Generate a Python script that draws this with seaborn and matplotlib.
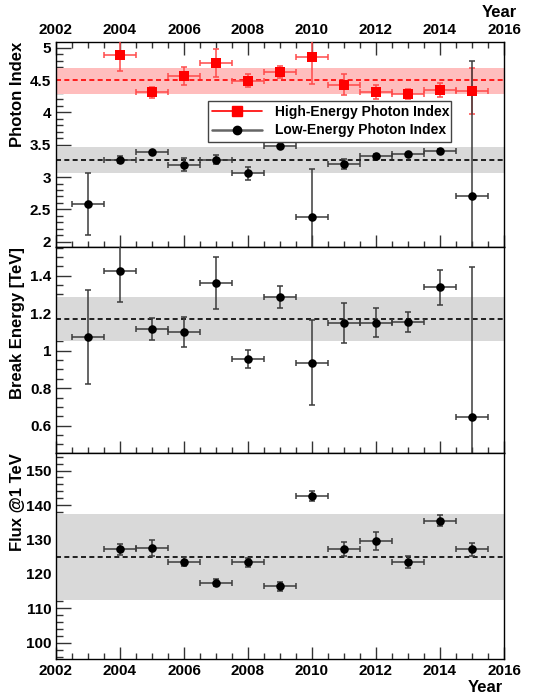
import numpy as np
import pandas as pd
import matplotlib
matplotlib.use("Agg")
import matplotlib.pyplot as plt
from matplotlib.lines import Line2D
from matplotlib.ticker import MultipleLocator
import seaborn as sns

# ---------------- data ----------------
years_low = [2003, 2004, 2005, 2006, 2007, 2008, 2009, 2010, 2011, 2012, 2013, 2014, 2015]
low_index = [2.59, 3.27, 3.39, 3.19, 3.27, 3.06, 3.48, 2.38, 3.20, 3.32, 3.35, 3.41, 2.70]
low_index_err = [0.48, 0.06, 0.02, 0.10, 0.07, 0.10, 0.02, 0.75, 0.08, 0.03, 0.02, 0.02, 2.10]

years_high = [2004, 2005, 2006, 2007, 2008, 2009, 2010, 2011, 2012, 2013, 2014, 2015]
high_index = [4.89, 4.31, 4.56, 4.76, 4.49, 4.62, 4.86, 4.43, 4.31, 4.28, 4.35, 4.33]
high_index_err = [0.25, 0.08, 0.14, 0.22, 0.10, 0.095, 0.42, 0.16, 0.11, 0.08, 0.11, 0.36]

years_break = [2003, 2004, 2005, 2006, 2007, 2008, 2009, 2010, 2011, 2012, 2013, 2014, 2015]
break_energy = [1.073, 1.423, 1.117, 1.098, 1.361, 0.956, 1.285, 0.936, 1.148, 1.150, 1.153, 1.338, 0.645]
break_energy_err = [0.25, 0.165, 0.058, 0.08, 0.14, 0.05, 0.06, 0.225, 0.105, 0.075, 0.053, 0.093, 0.80]

years_flux = [2004, 2005, 2006, 2007, 2008, 2009, 2010, 2011, 2012, 2013, 2014, 2015]
flux = [127.1, 127.4, 123.5, 117.4, 123.4, 116.4, 142.6, 127.3, 129.5, 123.5, 135.5, 127.1]
flux_err = [1.5, 2.3, 1.3, 1.0, 1.3, 1.3, 1.5, 2.0, 2.6, 1.8, 1.6, 1.9]

# averages and bands
high_mean, high_band = 4.495, (4.29, 4.68)
low_mean, low_band = 3.26, (3.07, 3.46)
break_mean, break_band = 1.169, (1.053, 1.286)
flux_mean, flux_band = 125.0, (112.5, 137.4)

year_halfwidth = 0.5

# ---------------- style ----------------
sns.set_theme(style="ticks")
plt.rcParams['font.family'] = ['Liberation Sans', 'DejaVu Sans']
plt.rcParams['font.weight'] = 'bold'
plt.rcParams['axes.labelweight'] = 'bold'
plt.rcParams['text.color'] = 'black'
plt.rcParams['axes.labelcolor'] = 'black'
plt.rcParams['xtick.labelcolor'] = 'black'
plt.rcParams['ytick.labelcolor'] = 'black'

fig = plt.figure(figsize=(5.36, 7.0), dpi=100)
W, H = 536.0, 700.0
left, width = 56 / W, 448 / W
ax_top = fig.add_axes([left, (H - 247) / H, width, 205.3 / H])
ax_mid = fig.add_axes([left, (H - 453) / H, width, 206 / H])
ax_bot = fig.add_axes([left, (H - 659) / H, width, 206 / H])

BLACK_ERR = '#3c3c3c'
RED = '#ff0000'
RED_ERR = '#ff4a4a'
GRAY_BAND = '#d9d9d9'
RED_BAND = '#ffbdbd'
TICK = '#333333'


def draw_series(ax, x, y, yerr, color, ecolor, marker, size):
    ax.errorbar(x, y, yerr=yerr, xerr=year_halfwidth, fmt='none', ecolor=ecolor,
                elinewidth=1.1, capsize=2.0, capthick=1.1, zorder=3)
    df = pd.DataFrame({'x': x, 'y': y})
    sns.scatterplot(data=df, x='x', y='y', ax=ax, color=color, marker=marker,
                    s=size, edgecolor=color, linewidth=0, zorder=4, legend=False)


def style_axes(ax, ylim, major, minor):
    ax.set_xlim(2002, 2016)
    ax.set_ylim(*ylim)
    ax.xaxis.set_major_locator(MultipleLocator(2))
    ax.xaxis.set_minor_locator(MultipleLocator(0.5))
    ax.yaxis.set_major_locator(MultipleLocator(major))
    ax.yaxis.set_minor_locator(MultipleLocator(minor))
    for s in ax.spines.values():
        s.set_visible(True)
        s.set_color('black')
        s.set_linewidth(1.0)
    ax.tick_params(axis='y', which='major', direction='in', length=10.5, width=1.0,
                   color=TICK, left=True, right=False, labelsize=11)
    ax.tick_params(axis='y', which='minor', direction='in', length=5, width=1.0,
                   color=TICK, left=True, right=False)
    ax.tick_params(axis='x', which='major', direction='in', length=9, width=1.0,
                   color=TICK, bottom=True, top=False, labelsize=11)
    ax.tick_params(axis='x', which='minor', direction='in', length=4.5, width=1.0,
                   color=TICK, bottom=True, top=False)
    for lab in ax.get_xticklabels() + ax.get_yticklabels():
        lab.set_fontweight('bold')
    ax.set_xlabel('')
    ax.grid(False)


# ---- top panel: photon indices ----
ax = ax_top
ax.axhspan(*high_band, color=RED_BAND, lw=0, zorder=1)
ax.axhspan(*low_band, color=GRAY_BAND, lw=0, zorder=1)
ax.axhline(high_mean, color=RED, ls=(0, (3, 2)), lw=1.2, zorder=2)
ax.axhline(low_mean, color='black', ls=(0, (3, 2)), lw=1.2, zorder=2)
draw_series(ax, years_high, high_index, high_index_err, RED, RED_ERR, 's', 55)
draw_series(ax, years_low, low_index, low_index_err, 'black', BLACK_ERR, 'o', 38)
style_axes(ax, (1.918, 5.093), 0.5, 0.1)
ax.tick_params(axis='x', which='both', top=True, labeltop=True, bottom=True, labelbottom=False)
ax.set_yticks([2, 2.5, 3, 3.5, 4, 4.5, 5])
ax.set_yticklabels(['2', '2.5', '3', '3.5', '4', '4.5', '5'], fontweight='bold')
for lab in ax.get_xticklabels():
    lab.set_fontweight('bold')
ax.set_ylabel('Photon Index', fontsize=12, fontweight='bold', loc='top')
ax.yaxis.set_label_coords(-0.07, 1.0)

handles = [
    Line2D([], [], color=RED, marker='s', markersize=7, lw=1.2),
    Line2D([], [], color='#666666', marker='o', markerfacecolor='black',
           markeredgecolor='black', markersize=6, lw=1.8),
]
leg = ax.legend(handles, ['High-Energy Photon Index', 'Low-Energy Photon Index'],
                loc='upper left', bbox_to_anchor=(0.339, 0.532, 0.543, 0.179),
                mode='expand', frameon=True, fancybox=False, framealpha=1,
                edgecolor='#444444', prop={'weight': 'bold', 'size': 10},
                handlelength=3.6, borderpad=0.3, labelspacing=0.3,
                handletextpad=0.9, borderaxespad=0)
leg.get_frame().set_linewidth(1.0)
leg.set_zorder(5)

# ---- middle panel: break energy ----
ax = ax_mid
ax.axhspan(*break_band, color=GRAY_BAND, lw=0, zorder=1)
ax.axhline(break_mean, color='black', ls=(0, (3, 2)), lw=1.2, zorder=2)
draw_series(ax, years_break, break_energy, break_energy_err, 'black', BLACK_ERR, 'o', 38)
style_axes(ax, (0.454, 1.553), 0.2, 0.05)
ax.set_yticks([0.6, 0.8, 1.0, 1.2, 1.4])
ax.set_yticklabels(['0.6', '0.8', '1', '1.2', '1.4'], fontweight='bold')
ax.tick_params(axis='x', labelbottom=False)
ax.set_ylabel('Break Energy [TeV]', fontsize=12, fontweight='bold', loc='top')
ax.yaxis.set_label_coords(-0.07, 1.0)

# ---- bottom panel: flux ----
ax = ax_bot
ax.axhspan(*flux_band, color=GRAY_BAND, lw=0, zorder=1)
ax.axhline(flux_mean, color='black', ls=(0, (3, 2)), lw=1.2, zorder=2)
draw_series(ax, years_flux, flux, flux_err, 'black', BLACK_ERR, 'o', 38)
style_axes(ax, (95.3, 155.1), 10, 2)
ax.set_ylabel('Flux @1 TeV', fontsize=12, fontweight='bold', loc='top')
ax.yaxis.set_label_coords(-0.07, 1.0)
for lab in ax.get_xticklabels() + ax.get_yticklabels():
    lab.set_fontweight('bold')

fig.text(517 / W, 1 - 12.5 / H, 'Year', ha='right', va='center', fontsize=12, fontweight='bold')
fig.text(503 / W, 1 - 688 / H, 'Year', ha='right', va='center', fontsize=12, fontweight='bold')

fig.savefig('out.png', dpi=100)
